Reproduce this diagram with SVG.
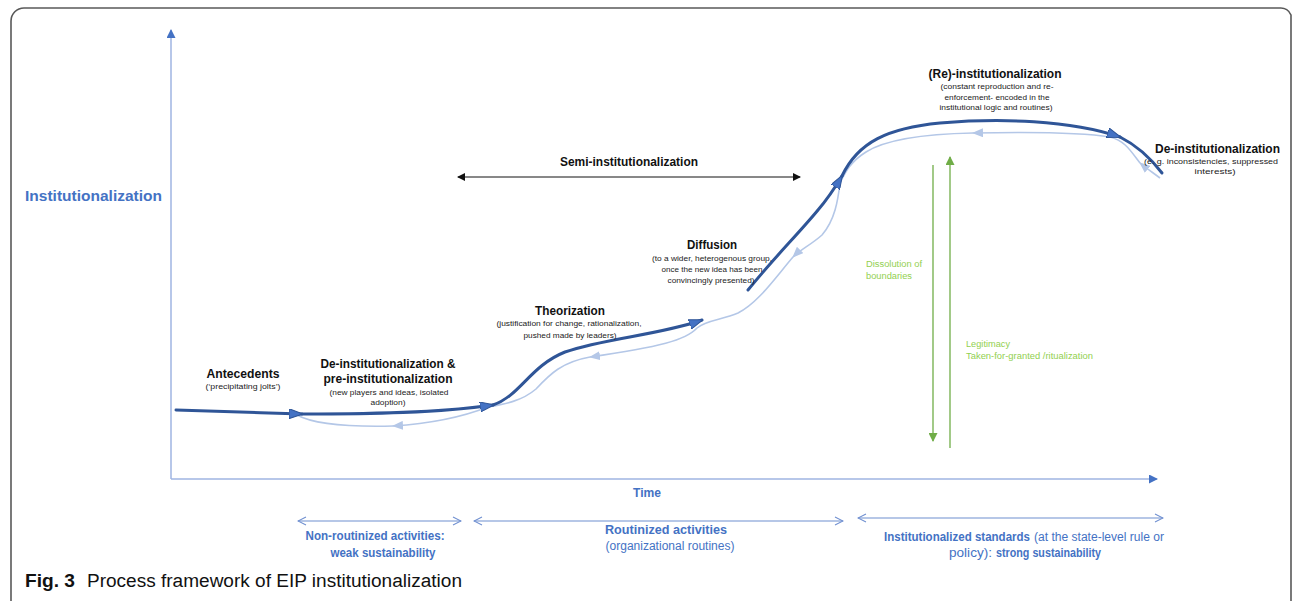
<svg xmlns="http://www.w3.org/2000/svg" width="1293" height="601" viewBox="0 0 1293 601">
<style>
text{font-family:"Liberation Sans",Arial,sans-serif}
.b{font-weight:bold}
.h{font-size:12.5px;font-weight:bold;fill:#111}
.s{font-size:8px;fill:#222}
.blue{fill:#4472c4}
.g{font-size:8.5px;fill:#92d050}
.dark{fill:none;stroke:#2f5597;stroke-width:3;stroke-linecap:round}
.lite{fill:none;stroke:#b4c7e7;stroke-width:1.6}
.ax{fill:none;stroke:#9fb5e2;stroke-width:1.5}
.bot{fill:none;stroke:#6f8fd0;stroke-width:1.2}
.grn{fill:none;stroke:#70ad47;stroke-width:1.3}
</style>
<defs>
<marker id="md" viewBox="0 0 14 10" refX="13" refY="5" markerWidth="14" markerHeight="10" markerUnits="userSpaceOnUse" orient="auto"><path d="M0,0L14,5L0,10z" fill="#4472c4" stroke="#2f5597" stroke-width="1"/></marker>
<marker id="ml" viewBox="0 0 11 9" refX="10" refY="4.5" markerWidth="11" markerHeight="9" markerUnits="userSpaceOnUse" orient="auto"><path d="M0,0L11,4.5L0,9z" fill="#b4c7e7"/></marker>
<marker id="mb" viewBox="0 0 8 8" refX="7" refY="4" markerWidth="8" markerHeight="8" markerUnits="userSpaceOnUse" orient="auto-start-reverse"><path d="M0,0L8,4L0,8z" fill="#111"/></marker>
<marker id="ma" viewBox="0 0 9 9" refX="8" refY="4.5" markerWidth="9" markerHeight="9" markerUnits="userSpaceOnUse" orient="auto"><path d="M0,0L9,4.5L0,9z" fill="#4472c4"/></marker>
<marker id="mo" viewBox="0 0 10 10" refX="9" refY="5" markerWidth="10" markerHeight="10" markerUnits="userSpaceOnUse" orient="auto-start-reverse"><path d="M1,1L9,5L1,9" fill="none" stroke="#6f8fd0" stroke-width="1.1"/></marker>
<marker id="mg" viewBox="0 0 9 9" refX="8" refY="4.5" markerWidth="9" markerHeight="9" markerUnits="userSpaceOnUse" orient="auto"><path d="M0,0L9,4.5L0,9z" fill="#70ad47"/></marker>
</defs>
<rect width="1293" height="601" fill="#fff"/>
<path d="M11,601V21A13,13 0 0 1 24,8H1280A11,11 0 0 1 1291,15V601" fill="none" stroke="#595959" stroke-width="1.6"/>

<g id="axes">
<path class="ax" d="M171,479V30" marker-end="url(#ma)"/>
<path class="ax" d="M171,479H1157" marker-end="url(#ma)"/>
<text class="b blue" x="25" y="201" font-size="15" textLength="137" lengthAdjust="spacingAndGlyphs">Institutionalization</text>
<text class="b blue" x="647" y="497" font-size="12.5" text-anchor="middle" textLength="28" lengthAdjust="spacingAndGlyphs">Time</text>
</g>

<g id="connectors">
<path class="lite" d="M1160,178C1152,172 1146,168 1140,163" marker-end="url(#ml)"/>
<path class="lite" d="M1140,163C1130,150 1125,141 1110,137C1080,132 1020,132 973,133" marker-end="url(#ml)"/>
<path class="lite" d="M973,133C920,134 885,140 866,152C850,162 845,173 840,183C838,200 835,220 822,235C812,244 800,250 793,257" marker-end="url(#ml)"/>
<path class="lite" d="M793,257C775,278 758,303 738,313C722,320 706,320 697,328C686,340 660,347 590,357" marker-end="url(#ml)"/>
<path class="lite" d="M590,357C562,362 550,374 536,389C522,401 505,404 488,407C470,414 440,423 393,426" marker-end="url(#ml)"/>
<path class="lite" d="M393,426C350,427 315,425 297,415"/>

<path class="dark" d="M176,410C220,411 260,413 302,414" marker-end="url(#md)"/>
<path class="dark" d="M302,414C370,414 440,413 493,405" marker-end="url(#md)"/>
<path class="dark" d="M493,405C520,396 530,366 565,352C605,338 660,335 702,320" marker-end="url(#md)"/>
<path class="dark" d="M748,290C772,260 800,232 818,210C830,196 836,186 842,176" marker-end="url(#md)"/>
<path class="dark" d="M842,176C858,142 888,128 940,123C1000,118 1070,120 1120,137" marker-end="url(#md)"/>
<path class="dark" d="M1120,137C1140,147 1152,160 1162,173"/>

<path d="M458,177H800" fill="none" stroke="#111" stroke-width="1" marker-start="url(#mb)" marker-end="url(#mb)"/>
<path class="grn" d="M933,165V441" marker-end="url(#mg)"/>
<path class="grn" d="M950,448V157" marker-end="url(#mg)"/>

<path class="bot" d="M298,521H461" marker-start="url(#mo)" marker-end="url(#mo)"/>
<path class="bot" d="M474,521H843" marker-start="url(#mo)" marker-end="url(#mo)"/>
<path class="bot" d="M858,518H1163" marker-start="url(#mo)" marker-end="url(#mo)"/>
</g>

<g id="antecedents">
<text class="h" x="243" y="378" text-anchor="middle" textLength="73" lengthAdjust="spacingAndGlyphs">Antecedents</text>
<text class="s" x="243" y="389" text-anchor="middle" textLength="75" lengthAdjust="spacingAndGlyphs">(‘precipitating jolts’)</text>
</g>

<g id="pre-institutionalization">
<text class="h" x="388" y="368" text-anchor="middle" textLength="135" lengthAdjust="spacingAndGlyphs">De-institutionalization &amp;</text>
<text class="h" x="388" y="383" text-anchor="middle" textLength="129" lengthAdjust="spacingAndGlyphs">pre-institutionalization</text>
<text class="s" x="389" y="395" text-anchor="middle" textLength="119" lengthAdjust="spacingAndGlyphs">(new players and ideas, isolated</text>
<text class="s" x="388" y="405" text-anchor="middle" textLength="35" lengthAdjust="spacingAndGlyphs">adoption)</text>
</g>

<g id="theorization">
<text class="h" x="570" y="315" text-anchor="middle" textLength="70" lengthAdjust="spacingAndGlyphs">Theorization</text>
<text class="s" x="569" y="326" text-anchor="middle" textLength="145" lengthAdjust="spacingAndGlyphs">(justification for change, rationalization,</text>
<text class="s" x="570" y="338" text-anchor="middle" textLength="93" lengthAdjust="spacingAndGlyphs">pushed made by leaders)</text>
</g>

<g id="diffusion">
<text class="h" x="712" y="249" text-anchor="middle" textLength="50" lengthAdjust="spacingAndGlyphs">Diffusion</text>
<text class="s" x="712" y="261" text-anchor="middle" textLength="120" lengthAdjust="spacingAndGlyphs">(to a wider, heterogenous group,</text>
<text class="s" x="712" y="272" text-anchor="middle" textLength="101" lengthAdjust="spacingAndGlyphs">once the new idea has been</text>
<text class="s" x="711" y="283" text-anchor="middle" textLength="87" lengthAdjust="spacingAndGlyphs">convincingly presented)</text>
</g>

<g id="semi-institutionalization">
<text class="h" x="629" y="166" text-anchor="middle" textLength="138" lengthAdjust="spacingAndGlyphs">Semi-institutionalization</text>
</g>

<g id="re-institutionalization">
<text class="h" x="995" y="78" text-anchor="middle" textLength="133" lengthAdjust="spacingAndGlyphs">(Re)-institutionalization</text>
<text class="s" x="997" y="89" text-anchor="middle" textLength="113" lengthAdjust="spacingAndGlyphs">(constant reproduction and re-</text>
<text class="s" x="997" y="99.5" text-anchor="middle" textLength="105" lengthAdjust="spacingAndGlyphs">enforcement- encoded in the</text>
<text class="s" x="996" y="110" text-anchor="middle" textLength="113" lengthAdjust="spacingAndGlyphs">institutional logic and routines)</text>
</g>

<g id="de-institutionalization">
<text class="h" x="1155" y="153" textLength="125" lengthAdjust="spacingAndGlyphs">De-institutionalization</text>
<text class="s" x="1211" y="164" text-anchor="middle" textLength="134" lengthAdjust="spacingAndGlyphs">(e. g. inconsistencies, suppressed</text>
<text class="s" x="1215" y="174" text-anchor="middle" textLength="41" lengthAdjust="spacingAndGlyphs">interests)</text>
</g>

<g id="dissolution">
<text class="g" x="866" y="267" textLength="56" lengthAdjust="spacingAndGlyphs">Dissolution of</text>
<text class="g" x="866" y="279" textLength="46" lengthAdjust="spacingAndGlyphs">boundaries</text>
</g>

<g id="legitimacy">
<text class="g" x="966" y="347" textLength="44" lengthAdjust="spacingAndGlyphs">Legitimacy</text>
<text class="g" x="966" y="359" textLength="127" lengthAdjust="spacingAndGlyphs">Taken-for-granted /ritualization</text>
</g>

<g id="non-routinized">
<text class="b blue" x="375" y="540" font-size="12" text-anchor="middle" textLength="139" lengthAdjust="spacingAndGlyphs">Non-routinized activities:</text>
<text class="b blue" x="383" y="557" font-size="12" text-anchor="middle" textLength="105" lengthAdjust="spacingAndGlyphs">weak sustainability</text>
</g>

<g id="routinized">
<text class="b blue" x="666" y="534" font-size="12" text-anchor="middle" textLength="122" lengthAdjust="spacingAndGlyphs">Routinized activities</text>
<text class="blue" x="670" y="550" font-size="12" text-anchor="middle" textLength="129" lengthAdjust="spacingAndGlyphs">(organizational routines)</text>
</g>

<g id="institutionalized">
<text class="b blue" x="884" y="541" font-size="12" textLength="146" lengthAdjust="spacingAndGlyphs">Institutionalized standards</text>
<text class="blue" x="1034" y="541" font-size="12" textLength="130" lengthAdjust="spacingAndGlyphs">(at the state-level rule or</text>
<text class="blue" x="949" y="557" font-size="12" textLength="43" lengthAdjust="spacingAndGlyphs">policy):</text>
<text class="b blue" x="996" y="557" font-size="12" textLength="105" lengthAdjust="spacingAndGlyphs">strong sustainability</text>
</g>

<g id="caption">
<text class="b" x="25" y="587" font-size="18" fill="#111" textLength="50" lengthAdjust="spacingAndGlyphs">Fig. 3</text>
<text x="87" y="587" font-size="18" fill="#111" textLength="375" lengthAdjust="spacingAndGlyphs">Process framework of EIP institutionalization</text>
</g>
</svg>
